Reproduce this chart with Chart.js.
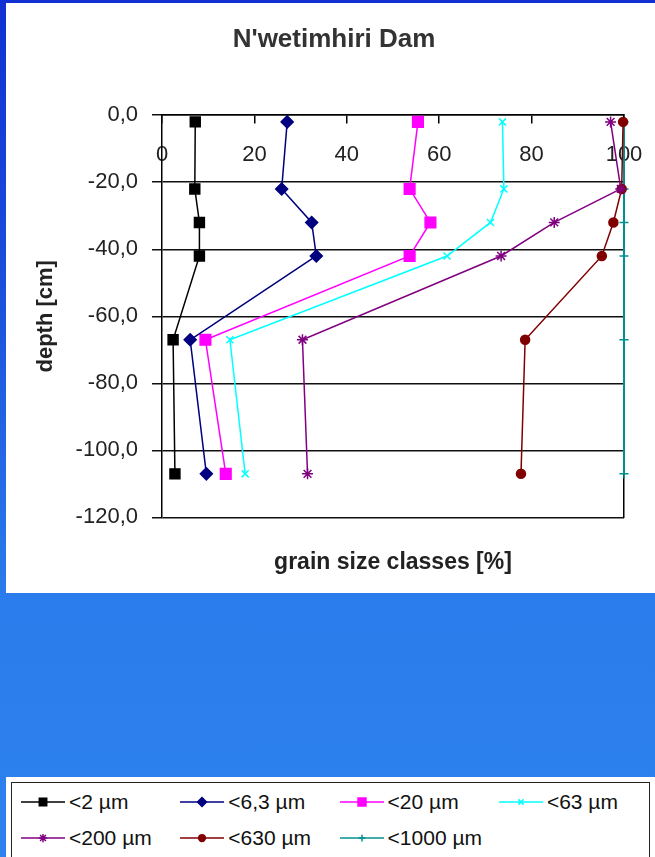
<!DOCTYPE html>
<html lang="en">
<head>
    <meta charset="UTF-8">
    <title>N'wetimhiri Dam</title>
    <script src="https://cdn.jsdelivr.net/npm/chart.js"></script>
    <style>
        html, body { margin: 0; padding: 0; }
        body {
            width: 655px;
            height: 857px;
            overflow: hidden;
            position: relative;
            background: linear-gradient(to bottom, #1130d2 0px, #1c52dc 300px, #2b7cec 600px, #2d82ee 857px);
            font-family: "Liberation Sans", Arial, sans-serif;
        }
        #panel {
            position: absolute; left: 6px; top: 3px;
            width: 649px; height: 590px; background: #fff;
        }
        #legendPanel {
            position: absolute; left: 6px; top: 777px;
            width: 649px; height: 90px; background: #fff;
        }
        #legend {
            position: absolute; left: 5px; top: 5px;
            width: 637px; height: 90px;
            border: 1px solid #222;
        }
        .item {
            position: absolute; height: 24px;
            display: flex; align-items: center;
            font-size: 21px; color: #111; white-space: nowrap;
        }
        .item canvas { margin-right: 4px; }
    </style>
</head>
<body>
    <div id="panel"><canvas id="chart" width="649" height="590"></canvas></div>
    <div id="legendPanel"><div id="legend"></div></div>

    <script>
        // depth of each sample [cm]
        const depths = [-2, -22, -32, -42, -67, -107];

        // cumulative grain size classes [%]
        const lt2 = [7.2, 7.1, 8.1, 8.1, 2.4, 2.8];
        const lt6_3 = [27.1, 25.9, 32.4, 33.4, 6.1, 9.6];
        const lt20 = [55.4, 53.6, 58.1, 53.6, 9.4, 13.8];
        const lt63 = [73.7, 74.0, 71.1, 61.7, 14.7, 18.0];
        const lt200 = [97.1, 99.3, 84.9, 73.4, 30.4, 31.5];
        const lt630 = [99.8, 99.5, 97.7, 95.2, 78.6, 77.7];
        const lt1000 = [100, 100, 100, 100, 100, 100];

        const seriesNames = ['<2 µm', '<6,3 µm', '<20 µm', '<63 µm', '<200 µm', '<630 µm', '<1000 µm'];
        const seriesValues = [lt2, lt6_3, lt20, lt63, lt200, lt630, lt1000];

        const xTicks = [0, 20, 40, 60, 80, 100];
        const yTicks = [0, -20, -40, -60, -80, -100, -120];

        const styles = [
            { color: '#000000', pointStyle: 'rect', radius: 7, width: 1.5 },
            { color: '#000080', pointStyle: 'rectRot', radius: 6, width: 1.5 },
            { color: '#ff00ff', pointStyle: 'rect', radius: 7.5, width: 1.5 },
            { color: '#00ffff', pointStyle: 'crossRot', radius: 5, width: 1.5 },
            { color: '#800080', pointStyle: 'star', radius: 5.5, width: 1.5 },
            { color: '#800000', pointStyle: 'circle', radius: 4.5, width: 1.5 },
            { color: '#009090', pointStyle: 'cross', radius: 4.5, width: 2 }
        ];

        const font = '"Liberation Sans", Arial, sans-serif';

        const datasets = seriesNames.map((name, i) => ({
            label: name,
            data: seriesValues[i].map((v, k) => ({ x: v, y: depths[k] })),
            showLine: true,
            tension: 0,
            clip: false,
            borderColor: styles[i].color,
            backgroundColor: styles[i].color,
            borderWidth: styles[i].width,
            pointStyle: styles[i].pointStyle,
            pointRadius: styles[i].radius,
            pointBorderWidth: 1.5,
            pointBackgroundColor: styles[i].color,
            pointBorderColor: styles[i].color
        }));

        new Chart(document.getElementById('chart').getContext('2d'), {
            type: 'scatter',
            data: { datasets: datasets },
            options: {
                responsive: false,
                animation: false,
                events: [],
                layout: { padding: { left: 20, right: 13, top: 0, bottom: 0 } },
                plugins: {
                    legend: { display: false },
                    tooltip: { enabled: false },
                    title: {
                        display: true,
                        text: "N'wetimhiri Dam",
                        color: '#333',
                        font: { family: font, size: 26, weight: 'bold' },
                        padding: { top: 21, bottom: 60 }
                    },
                    subtitle: {
                        display: true,
                        position: 'bottom',
                        fullSize: false,
                        text: 'grain size classes [%]',
                        color: '#222',
                        font: { family: font, size: 23, weight: 'bold' },
                        padding: { top: 31, bottom: 17 }
                    }
                },
                scales: {
                    x: {
                        type: 'linear',
                        position: { y: 0 },
                        min: 0,
                        max: 100,
                        afterBuildTicks: scale => { scale.ticks = xTicks.map(v => ({ value: v })); },
                        // labels sit inside the white panel, so no extra side padding is needed
                        afterFit: scale => { scale.paddingLeft = 0; scale.paddingRight = 0; },
                        ticks: {
                            color: '#222',
                            padding: 19,
                            font: { family: font, size: 22 }
                        },
                        grid: {
                            drawOnChartArea: false,
                            drawTicks: true,
                            tickLength: 8,
                            color: '#000',
                            lineWidth: 1.5
                        },
                        border: { display: true, color: '#000', width: 1.5 }
                    },
                    y: {
                        type: 'linear',
                        position: 'left',
                        min: -120,
                        max: 0,
                        afterBuildTicks: scale => { scale.ticks = yTicks.map(v => ({ value: v })); },
                        afterFit: scale => { scale.width = 136; },
                        ticks: {
                            color: '#222',
                            padding: 14,
                            font: { family: font, size: 22 },
                            callback: v => v.toFixed(1).replace('.', ',')
                        },
                        grid: {
                            color: '#111',
                            lineWidth: 1.5,
                            tickLength: 10
                        },
                        border: { display: true, color: '#000', width: 1.5 },
                        title: {
                            display: true,
                            text: 'depth [cm]',
                            color: '#222',
                            font: { family: font, size: 22, weight: 'bold' },
                            padding: { top: 7, bottom: 0 }
                        }
                    },
                    y2: {
                        type: 'linear',
                        position: 'right',
                        min: -120,
                        max: 0,
                        afterFit: scale => { scale.width = 18; },
                        ticks: { display: false },
                        grid: { display: false, drawTicks: false },
                        border: { display: true, color: '#000', width: 1.5 }
                    }
                }
            }
        });

        // legend: line sample with marker, then the series name
        const legendBox = document.getElementById('legend');
        seriesNames.forEach((name, i) => {
            const item = document.createElement('div');
            item.className = 'item';
            item.style.left = (9 + (i % 4) * 159.3) + 'px';
            item.style.top = (7 + Math.floor(i / 4) * 36) + 'px';

            const c = document.createElement('canvas');
            c.width = 44;
            c.height = 20;
            const ctx = c.getContext('2d');
            ctx.strokeStyle = styles[i].color;
            ctx.fillStyle = styles[i].color;
            ctx.lineWidth = 1.5;
            ctx.beginPath();
            ctx.moveTo(0, 10);
            ctx.lineTo(44, 10);
            ctx.stroke();
            if (Chart.helpers && Chart.helpers.drawPoint) {
                Chart.helpers.drawPoint(ctx, {
                    pointStyle: styles[i].pointStyle,
                    radius: styles[i].radius * 0.75,
                    rotation: 0,
                    borderWidth: 1.5
                }, 22, 10);
            }

            const label = document.createElement('span');
            label.textContent = name;
            item.appendChild(c);
            item.appendChild(label);
            legendBox.appendChild(item);
        });
    </script>
</body>
</html>
